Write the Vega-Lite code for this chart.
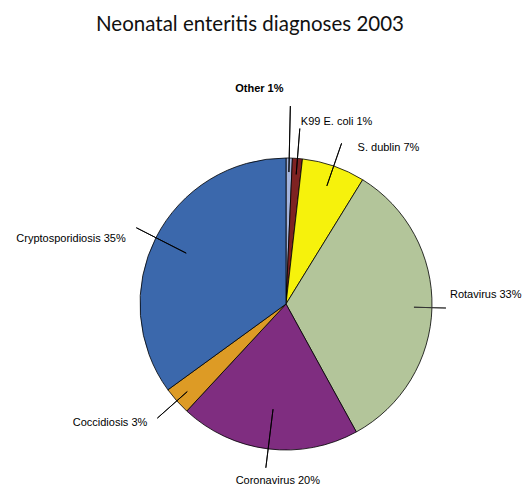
{
  "$schema": "https://vega.github.io/schema/vega-lite/v6.json",
  "width": 300,
  "height": 300,
  "autosize": {"type": "none"},
  "padding": {"left": 136, "top": 154, "right": 89, "bottom": 32},
  "background": "white",
  "config": {"view": {"stroke": null}},
  "title": {"text": "Neonatal enteritis diagnoses 2003", "font": "Lato", "fontSize": 20.5, "fontWeight": "normal", "color": "#111111", "anchor": "middle", "frame": "group", "offset": 48, "dx": -36},
  "data": {"values": [
    {"category": "Other", "label": "Other 1%", "value": 0.7, "rank": 1},
    {"category": "K99 E. coli", "label": "K99 E. coli 1%", "value": 1.1, "rank": 2},
    {"category": "S. dublin", "label": "S. dublin 7%", "value": 7.0, "rank": 3},
    {"category": "Rotavirus", "label": "Rotavirus 33%", "value": 33.2, "rank": 4},
    {"category": "Coronavirus", "label": "Coronavirus 20%", "value": 19.9, "rank": 5},
    {"category": "Coccidiosis", "label": "Coccidiosis 3%", "value": 3.1, "rank": 6},
    {"category": "Cryptosporidiosis", "label": "Cryptosporidiosis 35%", "value": 35.0, "rank": 7}
  ]},
  "encoding": {
    "theta": {"field": "value", "type": "quantitative", "stack": true, "scale": {"domain": [0, 100]}},
    "order": {"field": "rank", "type": "quantitative"},
    "detail": {"field": "category", "type": "nominal"}
  },
  "layer": [
    {
      "mark": {"type": "arc", "outerRadius": 146, "stroke": "black", "strokeWidth": 0.8},
      "encoding": {
        "color": {"field": "category", "type": "nominal", "legend": null,
          "scale": {"domain": ["Other", "K99 E. coli", "S. dublin", "Rotavirus", "Coronavirus", "Coccidiosis", "Cryptosporidiosis"],
                    "range": ["#A4B4DC", "#7E2222", "#F6F20C", "#B3C59A", "#7F2D80", "#DD9B25", "#3B68AC"]}}
      }
    },
    {"mark": {"type": "arc", "filled": false, "stroke": "black", "strokeWidth": 0.9, "padAngle": 3, "outerRadius": 198, "innerRadius": 132},
     "encoding": {"strokeOpacity": {"condition": {"test": "datum.category === 'Other'", "value": 1}, "value": 0}}},
    {"mark": {"type": "arc", "filled": false, "stroke": "black", "strokeWidth": 0.9, "padAngle": 3, "outerRadius": 176, "innerRadius": 130},
     "encoding": {"strokeOpacity": {"condition": {"test": "datum.category === 'K99 E. coli'", "value": 1}, "value": 0}}},
    {"mark": {"type": "arc", "filled": false, "stroke": "black", "strokeWidth": 0.9, "padAngle": 3, "outerRadius": 170, "innerRadius": 125},
     "encoding": {"strokeOpacity": {"condition": {"test": "datum.category === 'S. dublin'", "value": 1}, "value": 0}}},
    {"mark": {"type": "arc", "filled": false, "stroke": "#333333", "strokeWidth": 0.9, "padAngle": 3, "outerRadius": 160, "innerRadius": 128},
     "encoding": {"strokeOpacity": {"condition": {"test": "datum.category === 'Rotavirus'", "value": 1}, "value": 0}}},
    {"mark": {"type": "arc", "filled": false, "stroke": "black", "strokeWidth": 0.9, "padAngle": 3, "outerRadius": 165, "innerRadius": 106},
     "encoding": {"strokeOpacity": {"condition": {"test": "datum.category === 'Coronavirus'", "value": 1}, "value": 0}}},
    {"mark": {"type": "arc", "filled": false, "stroke": "black", "strokeWidth": 0.9, "padAngle": 3, "outerRadius": 172, "innerRadius": 132},
     "encoding": {"strokeOpacity": {"condition": {"test": "datum.category === 'Coccidiosis'", "value": 1}, "value": 0}}},
    {"mark": {"type": "arc", "filled": false, "stroke": "black", "strokeWidth": 0.9, "padAngle": 3, "outerRadius": 168, "innerRadius": 112},
     "encoding": {"strokeOpacity": {"condition": {"test": "datum.category === 'Cryptosporidiosis'", "value": 1}, "value": 0}}},
    {"mark": {"type": "text", "radius": 198, "dx": -31, "dy": -17, "align": "center", "baseline": "middle", "font": "Liberation Sans", "fontSize": 11, "fontWeight": "bold", "color": "black"},
     "encoding": {"text": {"condition": {"test": "datum.category === 'Other'", "field": "label"}, "value": ""}}},
    {"mark": {"type": "text", "radius": 176, "dx": 1, "dy": -6.5, "align": "left", "baseline": "middle", "font": "Liberation Sans", "fontSize": 11, "color": "black"},
     "encoding": {"text": {"condition": {"test": "datum.category === 'K99 E. coli'", "field": "label"}, "value": ""}}},
    {"mark": {"type": "text", "radius": 170, "dx": 16, "dy": 4.5, "align": "left", "baseline": "middle", "font": "Liberation Sans", "fontSize": 11, "color": "black"},
     "encoding": {"text": {"condition": {"test": "datum.category === 'S. dublin'", "field": "label"}, "value": ""}}},
    {"mark": {"type": "text", "radius": 160, "dx": 4, "dy": -13, "align": "left", "baseline": "middle", "font": "Liberation Sans", "fontSize": 11, "color": "black"},
     "encoding": {"text": {"condition": {"test": "datum.category === 'Rotavirus'", "field": "label"}, "value": ""}}},
    {"mark": {"type": "text", "radius": 165, "dx": 12, "dy": 13, "align": "center", "baseline": "middle", "font": "Liberation Sans", "fontSize": 11, "color": "black"},
     "encoding": {"text": {"condition": {"test": "datum.category === 'Coronavirus'", "field": "label"}, "value": ""}}},
    {"mark": {"type": "text", "radius": 172, "dx": -10, "dy": 5, "align": "right", "baseline": "middle", "font": "Liberation Sans", "fontSize": 11, "color": "black"},
     "encoding": {"text": {"condition": {"test": "datum.category === 'Coccidiosis'", "field": "label"}, "value": ""}}},
    {"mark": {"type": "text", "radius": 172, "dx": -7, "dy": 13, "align": "right", "baseline": "middle", "font": "Liberation Sans", "fontSize": 11, "color": "black"},
     "encoding": {"text": {"condition": {"test": "datum.category === 'Cryptosporidiosis'", "field": "label"}, "value": ""}}}
  ]
}
